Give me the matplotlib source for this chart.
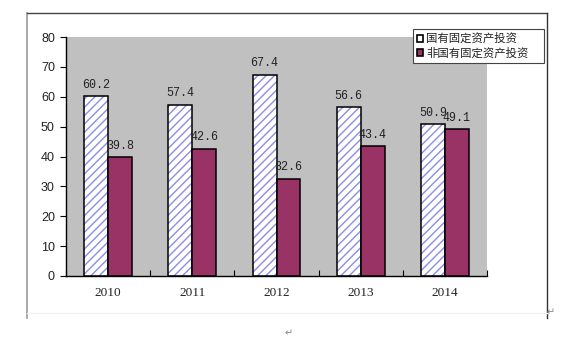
import matplotlib
matplotlib.use("Agg")
import matplotlib.pyplot as plt
import numpy as np
from matplotlib.patches import Rectangle, Patch
from matplotlib.lines import Line2D

years = ["2010", "2011", "2012", "2013", "2014"]
state_owned = [60.2, 57.4, 67.4, 56.6, 50.9]
non_state_owned = [39.8, 42.6, 32.6, 43.4, 49.1]
series_names = ["国有固定资产投资", "非国有固定资产投资"]
y_ticks = [0, 10, 20, 30, 40, 50, 60, 70, 80]

plt.rcParams["hatch.linewidth"] = 1.0

fig = plt.figure(figsize=(5.65, 3.44), dpi=100)
fig.patch.set_facecolor("white")

# outer chart frame (pixel coordinates converted to figure fractions)
W, H = 565.0, 344.0
def fx(px):
    return px / W
def fy(py):
    return 1 - py / H

fig.add_artist(Line2D([fx(27), fx(27)], [fy(13), fy(318)], color="#999999", lw=1.2))
fig.add_artist(Line2D([fx(27), fx(547)], [fy(13), fy(13)], color="#444444", lw=1.0))
fig.add_artist(Line2D([fx(547), fx(547)], [fy(13), fy(318)], color="#333333", lw=1.0))
fig.add_artist(Line2D([fx(27), fx(547)], [fy(313), fy(313)], color="#F0F0F0", lw=1.0))

ax = fig.add_axes([fx(66), fy(276), fx(487) - fx(66), fy(37) - fy(276)])
ax.set_facecolor("#C0C0C0")

x = np.arange(len(years))
w = 0.285
# hatched fill in a light blue, then a black outline on top
ax.bar(x - w / 2, state_owned, w, facecolor="white", edgecolor="#8C8CE6",
       hatch="////", linewidth=0, zorder=2)
b1 = ax.bar(x - w / 2, state_owned, w, facecolor="none", edgecolor="black",
            linewidth=1.1, zorder=3)
b2 = ax.bar(x + w / 2, non_state_owned, w, facecolor="#993366", edgecolor="black",
            linewidth=1.1, zorder=3)

for bars, vals in ((b1, state_owned), (b2, non_state_owned)):
    for r, v in zip(bars, vals):
        ax.text(r.get_x() + r.get_width() / 2, v + 1.8, f"{v:.1f}",
                ha="center", va="bottom", fontsize=8.4, color="#222222",
                family="Liberation Mono", zorder=4)

ax.set_xlim(-0.5, len(years) - 0.5)
ax.set_ylim(0, 80)
ax.set_yticks(y_ticks)
ax.set_yticklabels([str(t) for t in y_ticks], family="Liberation Sans", fontsize=9,
                   color="#222222")
ax.tick_params(axis="y", direction="out", length=4, width=0.8, pad=4)

ax.set_xticks(x)
ax.set_xticklabels(years, family="Liberation Serif", fontsize=9.5, color="#222222")
ax.tick_params(axis="x", length=0, pad=8)
ax.set_xticks(np.arange(len(years) + 1) - 0.5, minor=True)
ax.tick_params(axis="x", which="minor", direction="in", length=4, width=0.8)

for s in ("top", "right"):
    ax.spines[s].set_visible(False)
for s in ("left", "bottom"):
    ax.spines[s].set_linewidth(1.0)
    ax.spines[s].set_color("black")

# legend box with its entries
legend_box = Rectangle((fx(413), fy(63)), fx(544) - fx(413), fy(29) - fy(63),
                       transform=fig.transFigure, facecolor="white",
                       edgecolor="#444444", linewidth=0.8, zorder=5)
fig.add_artist(legend_box)
handles = [Patch(facecolor="white", edgecolor="black", linewidth=1.2),
           Patch(facecolor="#993366", edgecolor="black", linewidth=1.2)]
leg = fig.legend(handles, series_names, loc="upper left",
                 bbox_to_anchor=(fx(414), fy(30)), frameon=False,
                 borderpad=0.25, handlelength=0.55, handleheight=0.55,
                 handletextpad=0.25, labelspacing=0.3, borderaxespad=0,
                 prop={"family": ["Noto Sans CJK SC", "DejaVu Sans"], "size": 8.2})
leg.set_zorder(6)
for t in leg.get_texts():
    t.set_color("#222222")

# paragraph marks of the surrounding document
fig.text(fx(289), fy(333), "↵", fontsize=7, color="#888888", ha="center", va="center")
fig.text(fx(551), fy(312), "↵", fontsize=7, color="#888888", ha="center", va="center")

fig.savefig("out.png", dpi=100)
